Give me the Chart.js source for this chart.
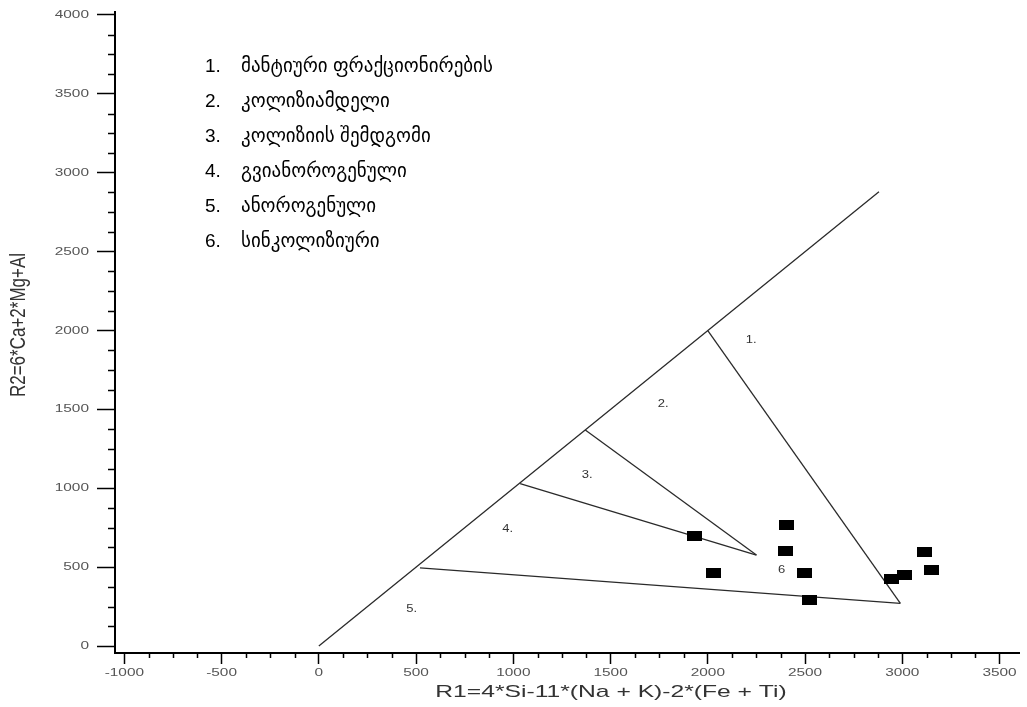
<!DOCTYPE html>
<html>
<head>
<meta charset="utf-8">
<script src="https://cdn.jsdelivr.net/npm/chart.js@4.4.1/dist/chart.umd.min.js"></script>
<style>
  html, body { margin: 0; padding: 0; background: #fff; }
  #wrap { width: 1027px; height: 707px; }
</style>
</head>
<body>
<div id="wrap"><canvas id="r1r2Chart" width="1027" height="707"></canvas></div>
<script>
// axis ticks
const xTicks = [-1000, -500, 0, 500, 1000, 1500, 2000, 2500, 3000, 3500];
const yTicks = [0, 500, 1000, 1500, 2000, 2500, 3000, 3500, 4000];
const minorStep = 125;

// samples (R1, R2)
const sampleR1 = [1929, 2031, 2406, 2398, 2499, 2522, 2942, 3010, 3112, 3148];
const sampleR2 = [699, 461, 767, 604, 461, 292, 423, 450, 594, 482];

// field boundaries, [R1, R2] end points
const lineDiagonal = [[0, 0], [2880, 2880]];
const line1to2 = [[2000, 2000], [2990, 270]];
const line2to3 = [[1370, 1370], [2250, 577]];
const line3to4 = [[1035, 1030], [2250, 577]];
const line4to5 = [[520, 495], [2990, 270]];

// field labels
const fieldLabels = ["1.", "2.", "3.", "4.", "5.", "6"];
const fieldR1 = [2223, 1771, 1380, 971, 477, 2380];
const fieldR2 = [1940, 1534, 1084, 740, 233, 482];

// legend
const legendNums = ["1.", "2.", "3.", "4.", "5.", "6."];
const legendNames = [
  "მანტიური ფრაქციონირების",
  "კოლიზიამდელი",
  "კოლიზიის შემდგომი",
  "გვიანოროგენული",
  "ანოროგენული",
  "სინკოლიზიური",
];

const xTitle = "R1=4*Si-11*(Na + K)-2*(Fe + Ti)";
const yTitle = "R2=6*Ca+2*Mg+Al";

document.addEventListener("DOMContentLoaded", function () {
  // black rectangle marker
  const marker = document.createElement("canvas");
  marker.width = 15;
  marker.height = 10;
  const mctx = marker.getContext("2d");
  mctx.fillStyle = "#000";
  mctx.fillRect(0, 0, 15, 10);

  const toPts = (arr) => arr.map((p) => ({ x: p[0], y: p[1] }));
  const boundary = (arr) => ({
    type: "line",
    data: toPts(arr),
    borderColor: "#2a2a2a",
    borderWidth: 1.3,
    pointRadius: 0,
    showLine: true,
    fill: false,
    order: 2,
  });

  // the source image is stretched sideways, so text is too
  const wideText = (ctx, text, x, y, sx) => {
    ctx.save();
    ctx.translate(x, y);
    ctx.scale(sx, 1);
    ctx.fillText(text, 0, 0);
    ctx.restore();
  };

  const decorPlugin = {
    id: "decor",
    afterDraw(chart) {
      const ctx = chart.ctx;
      const xs = chart.scales.x;
      const ys = chart.scales.y;
      const area = chart.chartArea;
      ctx.save();

      // minor ticks
      ctx.strokeStyle = "#000";
      ctx.lineWidth = 1.5;
      ctx.beginPath();
      for (let v = xTicks[0]; v <= xTicks[xTicks.length - 1]; v += minorStep) {
        if (v % 500 === 0) continue;
        const px = Math.round(xs.getPixelForValue(v)) + 0.5;
        ctx.moveTo(px, area.bottom);
        ctx.lineTo(px, area.bottom + 5);
      }
      for (let v = yTicks[0]; v <= yTicks[yTicks.length - 1]; v += minorStep) {
        if (v % 500 === 0) continue;
        const py = Math.round(ys.getPixelForValue(v)) + 0.5;
        ctx.moveTo(area.left, py);
        ctx.lineTo(area.left - 7, py);
      }
      ctx.stroke();

      // tick labels
      ctx.fillStyle = "#555";
      ctx.font = "11px 'Liberation Sans', Arial, sans-serif";
      ctx.textBaseline = "middle";
      ctx.textAlign = "center";
      xTicks.forEach((v) => {
        wideText(ctx, String(v), xs.getPixelForValue(v), 673, 1.4);
      });
      ctx.textAlign = "right";
      yTicks.forEach((v) => {
        wideText(ctx, String(v), 89, ys.getPixelForValue(v), 1.4);
      });

      // field labels
      ctx.fillStyle = "#333";
      ctx.font = "10px 'Liberation Sans', Arial, sans-serif";
      ctx.textAlign = "center";
      fieldLabels.forEach((t, i) => {
        wideText(ctx, t, xs.getPixelForValue(fieldR1[i]), ys.getPixelForValue(fieldR2[i]), 1.3);
      });

      // legend list
      ctx.fillStyle = "#000";
      ctx.textAlign = "left";
      ctx.font = "19px 'Liberation Sans', 'DejaVu Sans', sans-serif";
      legendNums.forEach((n, i) => {
        const y = 67 + i * 35;
        ctx.fillText(n, 205, y);
        ctx.fillText(legendNames[i], 241, y);
      });

      // axis titles
      ctx.fillStyle = "#333";
      ctx.font = "17px 'Liberation Sans', Arial, sans-serif";
      ctx.textAlign = "center";
      wideText(ctx, xTitle, 611, 692, 1.45);

      ctx.translate(19, 325);
      ctx.scale(1.3, 1);
      ctx.rotate(-Math.PI / 2);
      ctx.font = "17px 'Liberation Sans', Arial, sans-serif";
      ctx.fillText(yTitle, 0, 0);
      ctx.restore();
    },
  };

  const ctx = document.getElementById("r1r2Chart").getContext("2d");
  new Chart(ctx, {
    type: "scatter",
    data: {
      datasets: [
        boundary(lineDiagonal),
        boundary(line1to2),
        boundary(line2to3),
        boundary(line3to4),
        boundary(line4to5),
        {
          type: "scatter",
          data: sampleR1.map((x, i) => ({ x: x, y: sampleR2[i] })),
          pointStyle: marker,
          pointRadius: 7,
          order: 1,
        },
      ],
    },
    options: {
      responsive: false,
      animation: false,
      layout: { padding: { left: 0, top: 12, right: 2, bottom: 0 } },
      plugins: {
        legend: { display: false },
        tooltip: { enabled: false },
      },
      scales: {
        x: {
          type: "linear",
          min: -1048,
          max: 3600,
          afterBuildTicks: (scale) => {
            scale.ticks = xTicks.map((v) => ({ value: v }));
          },
          afterFit: (scale) => {
            scale.height = 54;
          },
          border: { display: true, color: "#000", width: 2 },
          grid: {
            drawOnChartArea: false,
            drawTicks: true,
            tickLength: 11,
            tickWidth: 1.5,
            tickColor: "#000",
          },
          ticks: { display: false },
        },
        y: {
          type: "linear",
          min: -44,
          max: 4019,
          afterBuildTicks: (scale) => {
            scale.ticks = yTicks.map((v) => ({ value: v }));
          },
          afterFit: (scale) => {
            scale.width = 115;
          },
          border: { display: true, color: "#000", width: 2 },
          grid: {
            drawOnChartArea: false,
            drawTicks: true,
            tickLength: 18,
            tickWidth: 1.5,
            tickColor: "#000",
          },
          ticks: { display: false },
        },
      },
    },
    plugins: [decorPlugin],
  });
});
</script>
</body>
</html>
